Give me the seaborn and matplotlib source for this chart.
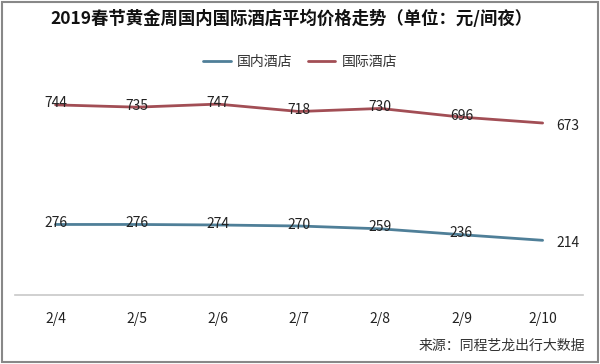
import matplotlib
matplotlib.use("Agg")
import matplotlib.pyplot as plt
import seaborn as sns
import pandas as pd
from matplotlib.lines import Line2D
from matplotlib.patches import Rectangle

dates = ["2/4", "2/5", "2/6", "2/7", "2/8", "2/9", "2/10"]
domestic = [276, 276, 274, 270, 259, 236, 214]
international = [744, 735, 747, 718, 730, 696, 673]
series_names = ["国内酒店", "国际酒店"]
colors = ["#4f7f98", "#a24e55"]

sns.set_theme(style="white")
plt.rcParams['font.family'] = ['Noto Sans CJK SC', 'DejaVu Sans']

df = pd.DataFrame({
    "date": dates * 2,
    "x": list(range(len(dates))) * 2,
    "value": domestic + international,
    "series": [series_names[0]] * len(dates) + [series_names[1]] * len(dates),
})

fig = plt.figure(figsize=(6.0, 3.64), dpi=100)
ax = fig.add_axes([0.025, 1 - 295 / 364, 0.947, 230 / 364])

sns.lineplot(data=df, x="x", y="value", hue="series", palette=colors,
             linewidth=2.0, ax=ax, legend=False)

ax.set_xlim(-0.5, len(dates) - 0.5)
ax.set_ylim(0, 900)
ax.set_xticks(range(len(dates)))
ax.set_xticklabels(dates, fontsize=10, color="#222222")
ax.tick_params(axis="x", length=0, pad=12)
ax.set_yticks([])
ax.set_xlabel("")
ax.set_ylabel("")
for s in ["top", "left", "right"]:
    ax.spines[s].set_visible(False)
ax.spines["bottom"].set_color("#c8c8c8")
ax.spines["bottom"].set_linewidth(1.2)

for vals in (domestic, international):
    for i, v in enumerate(vals):
        if i == len(vals) - 1:
            ax.annotate(str(v), (i, v), xytext=(10, -2), textcoords="offset points",
                        ha="left", va="center", fontsize=10, color="#222222")
        else:
            ax.annotate(str(v), (i, v), xytext=(0, 1), textcoords="offset points",
                        ha="center", va="center", fontsize=10, color="#222222")

fig.text(0.485, 1 - 19 / 364, "2019春节黄金周国内国际酒店平均价格走势（单位：元/间夜）",
         ha="center", va="center", fontsize=12.5, fontweight="bold", color="#111111")

handles = [Line2D([0], [0], color=c, lw=2.0) for c in colors]
fig.legend(handles, series_names, loc="center", bbox_to_anchor=(0.5, 1 - 62 / 364),
           ncol=2, frameon=False, fontsize=10, handlelength=2.0, columnspacing=1.1,
           handletextpad=0.45, labelcolor="#333333")

fig.text(0.975, 1 - 346 / 364, "来源：同程艺龙出行大数据", ha="right", va="center",
         fontsize=10, color="#333333")

fig.patches.append(Rectangle((0.004, 0.006), 0.992, 0.988, transform=fig.transFigure,
                             fill=False, edgecolor="#888888", linewidth=1.5))

fig.savefig("out.png", dpi=100)
